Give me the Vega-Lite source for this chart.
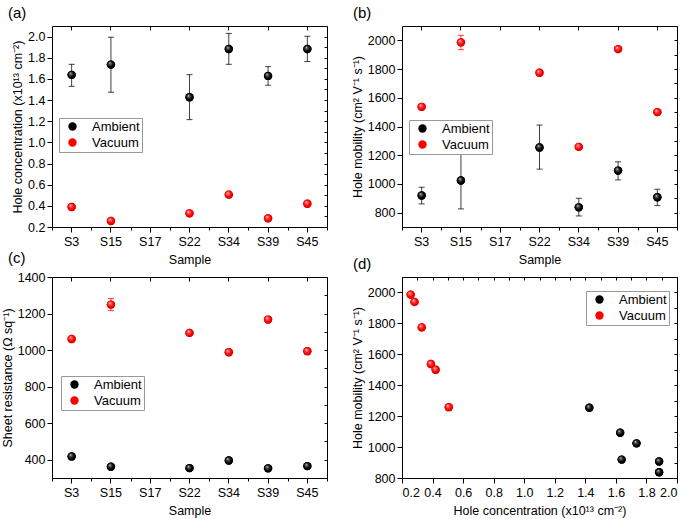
{
  "$schema": "https://vega.github.io/schema/vega-lite/v6.json",
  "padding": {"left": 0, "top": 5, "right": 5, "bottom": 2},
  "background": "white",
  "data": {"values": [
    {"sample": "S3", "cond": "Ambient", "conc": 1.638, "conc_lo": 1.53, "conc_hi": 1.738, "mob": 919, "mob_lo": 861, "mob_hi": 977, "rs": 418, "rs_lo": null, "rs_hi": null},
    {"sample": "S15", "cond": "Ambient", "conc": 1.735, "conc_lo": 1.474, "conc_hi": 1.994, "mob": 1024, "mob_lo": 826, "mob_hi": 1226, "rs": 362, "rs_lo": null, "rs_hi": null},
    {"sample": "S22", "cond": "Ambient", "conc": 1.426, "conc_lo": 1.215, "conc_hi": 1.64, "mob": 1254, "mob_lo": 1103, "mob_hi": 1410, "rs": 354, "rs_lo": null, "rs_hi": null},
    {"sample": "S34", "cond": "Ambient", "conc": 1.883, "conc_lo": 1.738, "conc_hi": 2.03, "mob": 837, "mob_lo": 777, "mob_hi": 900, "rs": 396, "rs_lo": null, "rs_hi": null},
    {"sample": "S39", "cond": "Ambient", "conc": 1.628, "conc_lo": 1.54, "conc_hi": 1.716, "mob": 1093, "mob_lo": 1028, "mob_hi": 1154, "rs": 353, "rs_lo": null, "rs_hi": null},
    {"sample": "S45", "cond": "Ambient", "conc": 1.883, "conc_lo": 1.764, "conc_hi": 2.003, "mob": 907, "mob_lo": 849, "mob_hi": 963, "rs": 365, "rs_lo": null, "rs_hi": null},
    {"sample": "S3", "cond": "Vacuum", "conc": 0.389, "conc_lo": null, "conc_hi": null, "mob": 1537, "mob_lo": null, "mob_hi": null, "rs": 1061, "rs_lo": null, "rs_hi": null},
    {"sample": "S15", "cond": "Vacuum", "conc": 0.257, "conc_lo": null, "conc_hi": null, "mob": 1986, "mob_lo": 1935, "mob_hi": 2035, "rs": 1249, "rs_lo": 1216, "rs_hi": 1282},
    {"sample": "S22", "cond": "Vacuum", "conc": 0.329, "conc_lo": null, "conc_hi": null, "mob": 1774, "mob_lo": null, "mob_hi": null, "rs": 1094, "rs_lo": null, "rs_hi": null},
    {"sample": "S34", "cond": "Vacuum", "conc": 0.506, "conc_lo": null, "conc_hi": null, "mob": 1258, "mob_lo": null, "mob_hi": null, "rs": 988, "rs_lo": null, "rs_hi": null},
    {"sample": "S39", "cond": "Vacuum", "conc": 0.282, "conc_lo": null, "conc_hi": null, "mob": 1939, "mob_lo": null, "mob_hi": null, "rs": 1167, "rs_lo": null, "rs_hi": null},
    {"sample": "S45", "cond": "Vacuum", "conc": 0.42, "conc_lo": null, "conc_hi": null, "mob": 1500, "mob_lo": null, "mob_hi": null, "rs": 994, "rs_lo": null, "rs_hi": null}
  ]},
  "columns": 2,
  "spacing": {"row": 50, "column": 75},
  "bounds": "flush",
  "concat": [
    {
      "width": 275, "height": 201,
      "title": {"text": "(a)", "dx": -44},
      "layer": [
        {
          "transform": [{"filter": {"field": "conc_lo", "valid": true}}],
          "mark": {"type": "errorbar", "ticks": {"size": 6}, "thickness": 1, "opacity": 0.75},
          "encoding": {
            "x": {"field": "sample", "type": "nominal", "scale": {"type": "band", "domain": ["S3", "S15", "S17", "S22", "S34", "S39", "S45"], "paddingInner": 0, "paddingOuter": 0}, "axis": {"orient": "bottom", "title": "Sample", "labelAngle": 0}},
            "y": {"field": "conc_lo", "type": "quantitative", "scale": {"domain": [0.2, 2.1], "nice": false, "zero": false}, "axis": {"orient": "left", "values": [0.2, 0.4, 0.6, 0.8, 1.0, 1.2, 1.4, 1.6, 1.8, 2.0], "format": ".1f", "title": "Hole concentration (x10¹³ cm⁻²)"}},
            "y2": {"field": "conc_hi"},
            "color": {"field": "cond", "type": "nominal", "scale": {"domain": ["Ambient", "Vacuum"], "range": ["#000000", "#ff0000"]}, "legend": {"title": null, "legendX": 7, "legendY": 92}}
          }
        },
        {
          "mark": {"type": "point", "filled": true, "size": 70, "opacity": 1},
          "encoding": {
            "x": {"field": "sample", "type": "nominal", "axis": {"orient": "top", "labels": false, "title": null, "tickSize": -4}},
            "y": {"field": "conc", "type": "quantitative", "axis": {"orient": "right", "labels": false, "title": null, "tickSize": -3, "values": [0.2, 0.3, 0.4, 0.5, 0.6, 0.7, 0.8, 0.9, 1.0, 1.1, 1.2, 1.3, 1.4, 1.5, 1.6, 1.7, 1.8, 1.9, 2.0, 2.1]}},
            "color": {"field": "cond", "type": "nominal", "legend": {"title": null, "legendX": 7, "legendY": 92}}
          }
        },
        {
          "transform": [{"filter": "datum.cond === 'Ambient'"}],
          "mark": {"type": "point", "filled": true, "size": 70, "opacity": 1, "fill": {"gradient": "radial", "x1": 0.35, "y1": 0.3, "r1": 0, "x2": 0.5, "y2": 0.5, "r2": 0.55, "stops": [{"offset": 0, "color": "#e8e8e8"}, {"offset": 0.25, "color": "#555555"}, {"offset": 0.65, "color": "#000000"}, {"offset": 1, "color": "#000000"}]}},
          "encoding": {
            "x": {"field": "sample", "type": "nominal", "axis": {"orient": "bottom", "tickBand": "extent", "labels": false, "title": null, "tickSize": 3}},
            "y": {"field": "conc", "type": "quantitative", "axis": null}
          }
        },
        {
          "transform": [{"filter": "datum.cond === 'Vacuum'"}],
          "mark": {"type": "point", "filled": true, "size": 70, "opacity": 1, "fill": {"gradient": "radial", "x1": 0.35, "y1": 0.3, "r1": 0, "x2": 0.5, "y2": 0.5, "r2": 0.55, "stops": [{"offset": 0, "color": "#ffffff"}, {"offset": 0.25, "color": "#ff6060"}, {"offset": 0.65, "color": "#ff0000"}, {"offset": 1, "color": "#cc0000"}]}},
          "encoding": {
            "x": {"field": "sample", "type": "nominal", "axis": null},
            "y": {"field": "conc", "type": "quantitative", "axis": null}
          }
        }
      ],
      "resolve": {"axis": {"x": "independent", "y": "independent"}}
    },
    {
      "width": 275, "height": 201,
      "title": {"text": "(b)", "dx": -49},
      "layer": [
        {
          "transform": [{"filter": {"field": "mob_lo", "valid": true}}],
          "mark": {"type": "errorbar", "ticks": {"size": 6}, "thickness": 1, "opacity": 0.75},
          "encoding": {
            "x": {"field": "sample", "type": "nominal", "scale": {"type": "band", "domain": ["S3", "S15", "S17", "S22", "S34", "S39", "S45"], "paddingInner": 0, "paddingOuter": 0}, "axis": {"orient": "bottom", "title": "Sample", "labelAngle": 0}},
            "y": {"field": "mob_lo", "type": "quantitative", "scale": {"domain": [700, 2100], "nice": false, "zero": false}, "axis": {"orient": "left", "values": [800, 1000, 1200, 1400, 1600, 1800, 2000], "format": "d", "title": "Hole mobility (cm² V⁻¹ s⁻¹)"}},
            "y2": {"field": "mob_hi"},
            "color": {"field": "cond", "type": "nominal", "scale": {"domain": ["Ambient", "Vacuum"], "range": ["#000000", "#ff0000"]}, "legend": {"title": null, "legendX": 7, "legendY": 94}}
          }
        },
        {
          "mark": {"type": "point", "filled": true, "size": 70, "opacity": 1},
          "encoding": {
            "x": {"field": "sample", "type": "nominal", "axis": {"orient": "top", "labels": false, "title": null, "tickSize": -4}},
            "y": {"field": "mob", "type": "quantitative", "axis": {"orient": "right", "labels": false, "title": null, "tickSize": -3, "values": [700, 800, 900, 1000, 1100, 1200, 1300, 1400, 1500, 1600, 1700, 1800, 1900, 2000, 2100]}},
            "color": {"field": "cond", "type": "nominal", "legend": {"title": null, "legendX": 7, "legendY": 94}}
          }
        },
        {
          "transform": [{"filter": "datum.cond === 'Ambient'"}],
          "mark": {"type": "point", "filled": true, "size": 70, "opacity": 1, "fill": {"gradient": "radial", "x1": 0.35, "y1": 0.3, "r1": 0, "x2": 0.5, "y2": 0.5, "r2": 0.55, "stops": [{"offset": 0, "color": "#e8e8e8"}, {"offset": 0.25, "color": "#555555"}, {"offset": 0.65, "color": "#000000"}, {"offset": 1, "color": "#000000"}]}},
          "encoding": {
            "x": {"field": "sample", "type": "nominal", "axis": {"orient": "bottom", "tickBand": "extent", "labels": false, "title": null, "tickSize": 3}},
            "y": {"field": "mob", "type": "quantitative", "axis": null}
          }
        },
        {
          "transform": [{"filter": "datum.cond === 'Vacuum'"}],
          "mark": {"type": "point", "filled": true, "size": 70, "opacity": 1, "fill": {"gradient": "radial", "x1": 0.35, "y1": 0.3, "r1": 0, "x2": 0.5, "y2": 0.5, "r2": 0.55, "stops": [{"offset": 0, "color": "#ffffff"}, {"offset": 0.25, "color": "#ff6060"}, {"offset": 0.65, "color": "#ff0000"}, {"offset": 1, "color": "#cc0000"}]}},
          "encoding": {
            "x": {"field": "sample", "type": "nominal", "axis": null},
            "y": {"field": "mob", "type": "quantitative", "axis": null}
          }
        }
      ],
      "resolve": {"axis": {"x": "independent", "y": "independent"}}
    },
    {
      "width": 275, "height": 201,
      "title": {"text": "(c)", "dx": -44},
      "layer": [
        {
          "transform": [{"filter": {"field": "rs_lo", "valid": true}}],
          "mark": {"type": "errorbar", "ticks": {"size": 6}, "thickness": 1, "opacity": 0.75},
          "encoding": {
            "x": {"field": "sample", "type": "nominal", "scale": {"type": "band", "domain": ["S3", "S15", "S17", "S22", "S34", "S39", "S45"], "paddingInner": 0, "paddingOuter": 0}, "axis": {"orient": "bottom", "title": "Sample", "labelAngle": 0}},
            "y": {"field": "rs_lo", "type": "quantitative", "scale": {"domain": [300, 1400], "nice": false, "zero": false}, "axis": {"orient": "left", "values": [400, 600, 800, 1000, 1200, 1400], "format": "d", "title": "Sheet resistance (Ω sq⁻¹)"}},
            "y2": {"field": "rs_hi"},
            "color": {"field": "cond", "type": "nominal", "scale": {"domain": ["Ambient", "Vacuum"], "range": ["#000000", "#ff0000"]}, "legend": {"title": null, "legendX": 9, "legendY": 99}}
          }
        },
        {
          "mark": {"type": "point", "filled": true, "size": 70, "opacity": 1},
          "encoding": {
            "x": {"field": "sample", "type": "nominal", "axis": {"orient": "top", "labels": false, "title": null, "tickSize": -4}},
            "y": {"field": "rs", "type": "quantitative", "axis": {"orient": "right", "labels": false, "title": null, "tickSize": -3, "values": [300, 400, 500, 600, 700, 800, 900, 1000, 1100, 1200, 1300, 1400]}},
            "color": {"field": "cond", "type": "nominal", "legend": {"title": null, "legendX": 9, "legendY": 99}}
          }
        },
        {
          "transform": [{"filter": "datum.cond === 'Ambient'"}],
          "mark": {"type": "point", "filled": true, "size": 70, "opacity": 1, "fill": {"gradient": "radial", "x1": 0.35, "y1": 0.3, "r1": 0, "x2": 0.5, "y2": 0.5, "r2": 0.55, "stops": [{"offset": 0, "color": "#e8e8e8"}, {"offset": 0.25, "color": "#555555"}, {"offset": 0.65, "color": "#000000"}, {"offset": 1, "color": "#000000"}]}},
          "encoding": {
            "x": {"field": "sample", "type": "nominal", "axis": {"orient": "bottom", "tickBand": "extent", "labels": false, "title": null, "tickSize": 3}},
            "y": {"field": "rs", "type": "quantitative", "axis": null}
          }
        },
        {
          "transform": [{"filter": "datum.cond === 'Vacuum'"}],
          "mark": {"type": "point", "filled": true, "size": 70, "opacity": 1, "fill": {"gradient": "radial", "x1": 0.35, "y1": 0.3, "r1": 0, "x2": 0.5, "y2": 0.5, "r2": 0.55, "stops": [{"offset": 0, "color": "#ffffff"}, {"offset": 0.25, "color": "#ff6060"}, {"offset": 0.65, "color": "#ff0000"}, {"offset": 1, "color": "#cc0000"}]}},
          "encoding": {
            "x": {"field": "sample", "type": "nominal", "axis": null},
            "y": {"field": "rs", "type": "quantitative", "axis": null}
          }
        }
      ],
      "resolve": {"axis": {"x": "independent", "y": "independent"}}
    },
    {
      "width": 275, "height": 201,
      "title": {"text": "(d)", "dx": -49},
      "layer": [
        {
          "mark": {"type": "point", "filled": true, "size": 70, "opacity": 1},
          "encoding": {
            "x": {"field": "conc", "type": "quantitative", "scale": {"domain": [0.2, 2.0], "nice": false, "zero": false}, "axis": {"orient": "bottom", "values": [0.2, 0.4, 0.6, 0.8, 1.0, 1.2, 1.4, 1.6, 1.8, 2.0], "format": ".1f", "title": "Hole concentration (x10¹³ cm⁻²)"}},
            "y": {"field": "mob", "type": "quantitative", "scale": {"domain": [800, 2100], "nice": false, "zero": false}, "axis": {"orient": "left", "values": [800, 1000, 1200, 1400, 1600, 1800, 2000], "format": "d", "title": "Hole mobility (cm² V⁻¹ s⁻¹)"}},
            "color": {"field": "cond", "type": "nominal", "scale": {"domain": ["Ambient", "Vacuum"], "range": ["#000000", "#ff0000"]}, "legend": {"title": null, "legendX": 184, "legendY": 14}}
          }
        },
        {
          "transform": [{"filter": "datum.cond === 'Ambient'"}],
          "mark": {"type": "point", "filled": true, "size": 70, "opacity": 1, "fill": {"gradient": "radial", "x1": 0.35, "y1": 0.3, "r1": 0, "x2": 0.5, "y2": 0.5, "r2": 0.55, "stops": [{"offset": 0, "color": "#e8e8e8"}, {"offset": 0.25, "color": "#555555"}, {"offset": 0.65, "color": "#000000"}, {"offset": 1, "color": "#000000"}]}},
          "encoding": {
            "x": {"field": "conc", "type": "quantitative", "axis": {"orient": "top", "labels": false, "title": null, "tickSize": -3, "values": [0.2, 0.3, 0.4, 0.5, 0.6, 0.7, 0.8, 0.9, 1.0, 1.1, 1.2, 1.3, 1.4, 1.5, 1.6, 1.7, 1.8, 1.9, 2.0]}},
            "y": {"field": "mob", "type": "quantitative", "axis": {"orient": "right", "labels": false, "title": null, "tickSize": -3, "values": [800, 900, 1000, 1100, 1200, 1300, 1400, 1500, 1600, 1700, 1800, 1900, 2000, 2100]}}
          }
        },
        {
          "transform": [{"filter": "datum.cond === 'Vacuum'"}],
          "mark": {"type": "point", "filled": true, "size": 70, "opacity": 1, "fill": {"gradient": "radial", "x1": 0.35, "y1": 0.3, "r1": 0, "x2": 0.5, "y2": 0.5, "r2": 0.55, "stops": [{"offset": 0, "color": "#ffffff"}, {"offset": 0.25, "color": "#ff6060"}, {"offset": 0.65, "color": "#ff0000"}, {"offset": 1, "color": "#cc0000"}]}},
          "encoding": {
            "x": {"field": "conc", "type": "quantitative", "axis": null},
            "y": {"field": "mob", "type": "quantitative", "axis": null}
          }
        }
      ],
      "resolve": {"axis": {"x": "independent", "y": "independent"}}
    }
  ],
  "resolve": {"scale": {"color": "independent"}, "legend": {"color": "independent"}},
  "config": {
    "font": "Liberation Sans",
    "view": {"stroke": "#000000", "strokeWidth": 1},
    "axis": {"grid": false, "domain": false, "tickColor": "#000000", "tickSize": 5, "labelColor": "#000000", "titleColor": "#000000", "labelFont": "Liberation Sans", "titleFont": "Liberation Sans", "labelFontSize": 12.5, "titleFontSize": 12.5, "titleFontWeight": "normal", "labelPadding": 2, "titlePadding": 3},
    "axisBottom": {"labelPadding": 3, "titlePadding": 6},
    "legend": {"orient": "none", "padding": 2, "strokeColor": "#999999", "fillColor": "#ffffff", "symbolSize": 70, "symbolType": "circle", "symbolStrokeWidth": 0, "symbolOpacity": 1, "symbolOffset": 5, "labelOffset": 13, "labelFontSize": 13, "labelFont": "Liberation Sans", "labelColor": "#000000", "rowPadding": 2, "cornerRadius": 0},
    "title": {"anchor": "start", "frame": "group", "fontSize": 15, "fontWeight": "normal", "font": "Liberation Sans", "color": "#000000", "offset": 5}
  }
}
